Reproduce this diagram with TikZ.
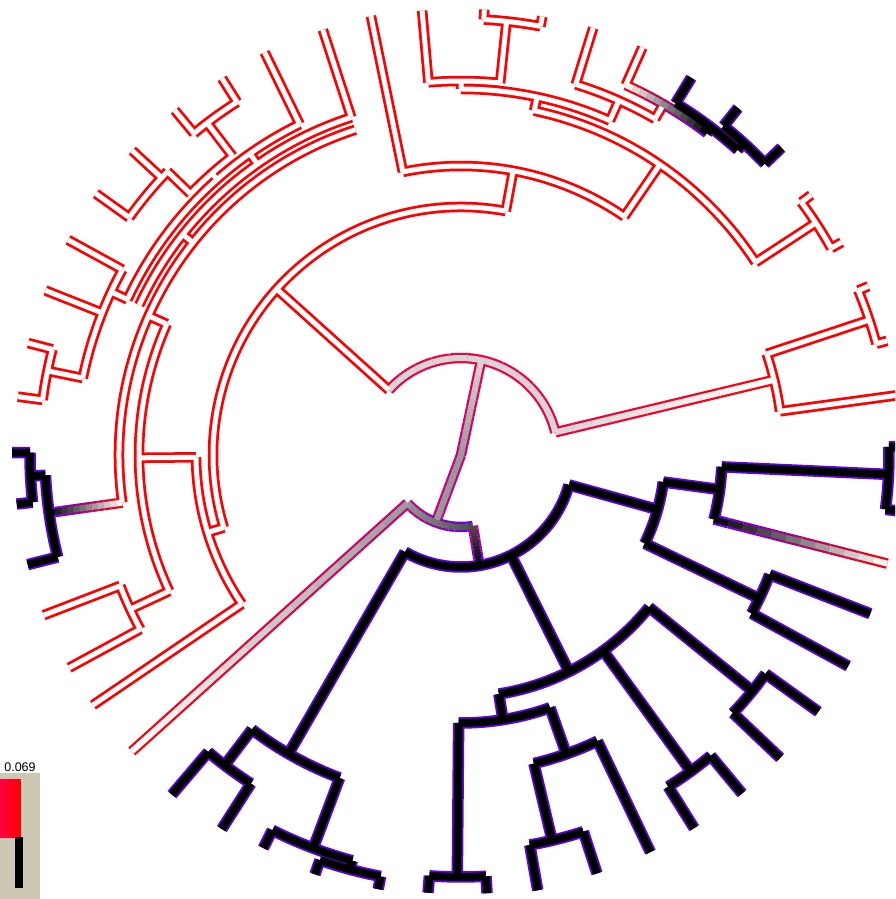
\documentclass[tikz,border=0pt]{standalone}
\usepackage{fontspec}
\setmainfont{Liberation Sans}
\usepackage{tikz}

\definecolor{rcol}{RGB}{255,0,0}
\definecolor{pcol}{RGB}{100,0,240}
\definecolor{mcol}{RGB}{200,0,130}
\definecolor{kcol}{RGB}{240,0,70}
\definecolor{gl}{gray}{0.84}
\definecolor{gm}{gray}{0.6}
\definecolor{gd}{gray}{0.3}
\definecolor{wcol}{gray}{1}
\definecolor{bcol}{gray}{0}
\definecolor{beige}{RGB}{205,200,180}

\tikzset{
  rout/.style={draw=rcol, line width=10.5, line cap=square},
  rin/.style={draw=white, line width=5, line cap=square},
  pout/.style={draw=pcol, line width=11.5, line cap=square},
  pin/.style={draw=black, line width=8, line cap=square},
  gout/.style={line width=10.5, line cap=square},
  gin/.style={line width=6, line cap=square},
}

\newif\ifinner
% one branch, outer pass or inner pass
\newcommand\rbr[1]{\ifinner\draw[rin] #1;\else\draw[rout] #1;\fi}
\newcommand\pbr[1]{\ifinner\draw[pin] #1;\else\draw[pout] #1;\fi}
% leaf: angle, r1, r2 -- node: angle, r1, r, a1, a2 -- arc: a1, a2, r
\newcommand\Rl[3]{\rbr{(#1:#2) -- (#1:#3)}}
\newcommand\Rn[5]{\rbr{(#1:#2) -- (#1:#3) (#4:#3) arc[start angle=#4,end angle=#5,radius=#3]}}
\newcommand\Pl[3]{\pbr{(#1:#2) -- (#1:#3)}}
\newcommand\Pn[5]{\pbr{(#1:#2) -- (#1:#3) (#4:#3) arc[start angle=#4,end angle=#5,radius=#3]}}
\newcommand\Pa[3]{\pbr{(#1:#3) arc[start angle=#1,end angle=#2,radius=#3]}}
\newcommand\Ra[3]{\rbr{(#1:#3) arc[start angle=#1,end angle=#2,radius=#3]}}
% shaded branches: angle, r1, r2, outer from/to, inner from/to
\newcommand\Gl[7]{%
  \foreach \k in {0,...,11}{%
    \pgfmathsetmacro\ga{#2+(#3-#2)*\k/12}%
    \pgfmathsetmacro\gb{#2+(#3-#2)*(\k+1)/12}%
    \pgfmathsetmacro\gp{100-100*(\k+0.5)/12}%
    \ifinner\draw[gin,draw=#6!\gp!#7] (#1:\ga) -- (#1:\gb);%
    \else\draw[gout,draw=#4!\gp!#5] (#1:\ga) -- (#1:\gb);\fi}}
\newcommand\Ga[7]{%
  \foreach \k in {0,...,11}{%
    \pgfmathsetmacro\ga{#1+(#2-#1)*\k/12}%
    \pgfmathsetmacro\gb{#1+(#2-#1)*(\k+1)/12}%
    \pgfmathsetmacro\gp{100-100*(\k+0.5)/12}%
    \ifinner\draw[gin,draw=#6!\gp!#7] (\ga:#3) arc[start angle=\ga,end angle=\gb,radius=#3];%
    \else\draw[gout,draw=#4!\gp!#5] (\ga:#3) arc[start angle=\ga,end angle=\gb,radius=#3];\fi}}

\newcommand\treebody{%
  % root
  \Gl{78}{0}{97}{mcol}{kcol}{gm}{gl}
  \Gl{249.5}{0}{72}{mcol}{mcol}{gm}{gm}
  \Ga{13.5}{138}{97}{kcol}{kcol}{gl}{gl}
  \Ga{222}{279.5}{72}{mcol}{pcol}{gm}{gd}
  % upper clade
  \Gl{13.5}{97}{322}{kcol}{rcol}{gl}{wcol}
  \Ra{7.8}{18.3}{322}
  \Rl{7.8}{322}{450}
  \Rn{18.3}{322}{430}{15}{22.5}
  \Rl{15}{430}{441}
  \Rl{22.5}{430}{441}
  \Rn{138}{97}{248}{79.6}{197}
  \Rn{79.6}{248}{289}{55.6}{101.6}
  \Rl{101.6}{289}{448}
  \Rn{55.6}{289}{352}{33.2}{78}
  \Rn{33.2}{352}{424}{29.2}{36.6}
  \Rl{29.2}{424}{436}
  \Rl{36.6}{424}{436}
  \Rn{78}{352}{366}{66}{90}
  \Rn{90}{366}{374}{84}{95}
  \Rl{95}{374}{446}
  \Rn{84}{374}{436}{79.5}{87}
  \Rl{79.5}{436}{446}
  \Rl{87}{436}{446}
  \Rn{66}{366}{388}{60}{72.8}
  \Rl{72.8}{388}{447}
  \Rl{60}{388}{405}
  \Ga{66}{52.6}{405}{rcol}{pcol}{wcol}{bcol}
  \Rl{66}{405}{446}
  \Pn{52.6}{405}{412}{47.8}{58.6}
  \Pl{58.6}{412}{442}
  \Pn{47.8}{412}{421}{43.8}{51.4}
  \Pl{43.8}{421}{444}
  \Pl{51.4}{421}{444}
  % left side
  \Rn{197}{248}{265}{180.5}{214.2}
  \Rl{214.2}{265}{445}
  \Rn{180.5}{265}{322}{156}{205}
  \Rn{205}{322}{365}{201}{208.5}
  \Rl{201}{365}{447}
  \Rl{208.5}{365}{446}
  \Rn{156}{322}{342}{108}{188}
  \Gl{188}{342}{416}{rcol}{pcol}{wcol}{bcol}
  \Pa{182.8}{194.2}{416}
  \Pl{194.2}{416}{447}
  \Pn{182.8}{416}{431}{179.7}{186.3}
  \Pl{179.7}{431}{449}
  \Pl{186.3}{431}{447}
  \Rn{141.6}{342}{355}{108}{155}
  \Rl{108}{355}{447}
  \Rn{125}{355}{368}{116}{155}
  \Rl{116}{368}{448}
  \Rn{155}{368}{386}{151.3}{168.5}
  \Rl{151.3}{386}{448}
  \Rl{158.4}{386}{447}
  \Rn{168.5}{386}{422}{165.5}{172.5}
  \Rl{165.5}{422}{447}
  \Rl{172.5}{422}{447}
  \Rn{131.5}{368}{376}{127.4}{136}
  \Rn{127.4}{376}{418}{122.4}{129.7}
  \Rl{122.4}{418}{446}
  \Rl{129.7}{418}{448}
  \Rn{136}{376}{408}{136}{144.4}
  \Rl{144.4}{408}{449}
  \Rl{137.2}{408}{448}
  % lower clade
  \Gl{222}{72}{443}{mcol}{rcol}{gm}{wcol}
  \Gl{279.5}{72}{112}{mcol}{pcol}{gd}{bcol}
  \Pa{240}{344.5}{112}
  \Pn{240}{112}{345}{232.7}{249.4}
  \Pn{232.7}{345}{390}{229.6}{237.4}
  \Pl{229.6}{390}{446}
  \Pl{237.4}{390}{444}
  \Pn{249.4}{345}{420}{243.3}{255}
  \Pl{243.3}{420}{440}
  \Pn{255}{420}{429}{250.8}{259.2}
  \Pl{250.8}{429}{444}
  \Pl{259.2}{429}{442}
  \Pn{296.5}{112}{242}{279}{321}
  \Pn{279}{242}{268}{269.5}{289.4}
  \Pn{269.5}{268}{422}{265.7}{273.4}
  \Pl{265.7}{422}{439}
  \Pl{273.4}{422}{439}
  \Pn{289.4}{268}{317}{283.3}{295.5}
  \Pn{283.3}{317}{396}{280}{288}
  \Pl{280}{396}{442}
  \Pl{288}{396}{440}
  \Pl{295.5}{317}{440}
  \Pn{306}{242}{391}{302}{309.7}
  \Pl{302}{391}{440}
  \Pl{309.7}{391}{440}
  \Pn{321}{242}{375}{316.5}{324.3}
  \Pl{316.5}{375}{440}
  \Pl{324.3}{375}{440}
  \Pn{344.5}{112}{204}{334.3}{352.4}
  \Pn{352.4}{204}{261}{345.7}{357.4}
  \Pn{357.4}{261}{428}{352.7}{361.1}
  \Pl{352.7}{428}{445}
  \Pl{361.1}{428}{445}
  \Gl{345.7}{261}{440}{pcol}{rcol}{bcol}{wcol}
  \Pn{334.3}{204}{331}{331.4}{338.8}
  \Pl{331.4}{331}{441}
  \Pl{338.8}{331}{439}
}

\begin{document}
\begin{tikzpicture}[x=1pt, y=1pt]
  \useasboundingbox (-461,-444) rectangle (434,455);
  \clip (-461,-444) rectangle (434,455);
  \innerfalse\treebody
  \innertrue\treebody
  % colour key
  \fill[beige] (-461,-444) rectangle (-421,-318);
  \shade[left color={rgb,255:red,255;green,0;blue,64}, right color=rcol] (-461,-382) rectangle (-440,-324);
  \fill[black] (-446,-433) rectangle (-438,-382);
  \node[font=\fontsize{12.5}{14}\selectfont, inner sep=0pt] (key) at (-441,-312) {0.069};
\end{tikzpicture}
\end{document}
